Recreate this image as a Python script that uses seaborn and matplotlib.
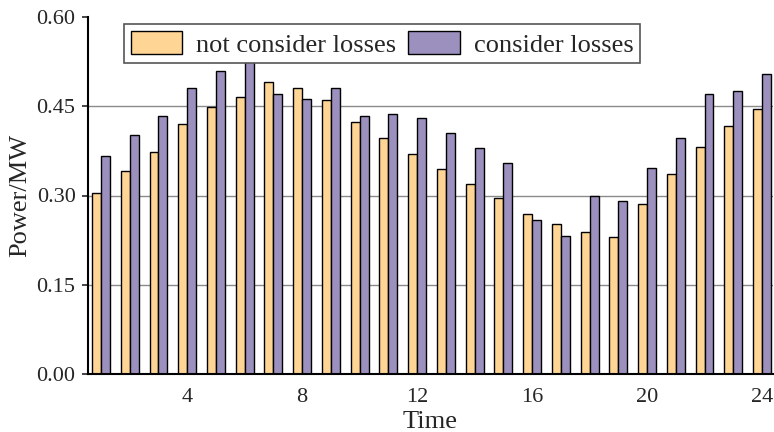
import numpy as np
import pandas as pd
import matplotlib
matplotlib.use("Agg")
import matplotlib.pyplot as plt
import seaborn as sns
from matplotlib.ticker import FixedLocator

# Hourly power (MW) for the two scheduling cases
hours = list(range(1, 25))
not_consider_losses = [0.305, 0.342, 0.373, 0.421, 0.449, 0.466, 0.491, 0.481,
                       0.460, 0.424, 0.397, 0.370, 0.345, 0.319, 0.295, 0.269,
                       0.252, 0.239, 0.231, 0.286, 0.336, 0.381, 0.416, 0.446]
consider_losses = [0.366, 0.402, 0.433, 0.481, 0.509, 0.526, 0.470, 0.462,
                   0.480, 0.433, 0.437, 0.430, 0.405, 0.379, 0.354, 0.259,
                   0.232, 0.299, 0.291, 0.346, 0.396, 0.471, 0.476, 0.505]
series_names = ["not consider losses", "consider losses"]
y_ticks = [0.00, 0.15, 0.30, 0.45, 0.60]
x_tick_labels = [4, 8, 12, 16, 20, 24]

df = pd.DataFrame({
    "Time": hours * 2,
    "Power": not_consider_losses + consider_losses,
    "Case": [series_names[0]] * 24 + [series_names[1]] * 24,
})

sns.set_style("white")
plt.rcParams["font.family"] = ["Liberation Serif", "DejaVu Serif"]

fig = plt.figure(figsize=(7.74, 4.32), dpi=100)
ax = fig.add_axes([88 / 774, 1 - 374 / 432, 685 / 774, 357 / 432])

palette = {series_names[0]: "#FFD596", series_names[1]: "#9C90BF"}
sns.barplot(data=df, x="Time", y="Power", hue="Case", hue_order=series_names,
            palette=palette, width=0.62, edgecolor="black", linewidth=1.0,
            saturation=1, ax=ax, zorder=3)

# horizontal grid
for yv in y_ticks[1:-1]:
    ax.axhline(yv, color="#8a8a8a", lw=1.0, zorder=1)

ax.set_ylim(0, 0.60)
ax.set_xlim(-0.45, 23.38)
ax.set_yticks(y_ticks)
ax.set_yticklabels([f"{v:.2f}" for v in y_ticks])
ax.set_xticks([h - 1 for h in x_tick_labels])
ax.set_xticklabels([str(h) for h in x_tick_labels])
ax.xaxis.set_minor_locator(FixedLocator([h - 1 for h in hours]))

ax.tick_params(axis="y", which="major", direction="out", length=4, width=1.2,
               labelsize=16, left=True, pad=5)
ax.tick_params(axis="x", which="major", direction="in", length=4, width=1.2,
               labelsize=16, bottom=True, pad=10)
ax.tick_params(axis="x", which="minor", direction="in", length=3, width=1.0,
               bottom=True)

for side in ["top", "right"]:
    ax.spines[side].set_visible(False)
for side in ["left", "bottom"]:
    ax.spines[side].set_color("black")
    ax.spines[side].set_linewidth(1.5)
    ax.spines[side].set_zorder(5)

ax.set_xlabel("Time", fontsize=19, labelpad=3)
ax.set_ylabel("Power/MW", fontsize=19, labelpad=4)

leg = ax.legend(loc="upper left", bbox_to_anchor=(0.0526, 0.98), ncol=2,
                fontsize=19, frameon=True, fancybox=False, framealpha=1,
                edgecolor="#555555", handlelength=1.96, handleheight=1.0,
                handletextpad=0.53, columnspacing=0.45, borderpad=0.25,
                borderaxespad=0)
leg.get_frame().set_linewidth(1.2)
leg.set_zorder(10)
for h in leg.legend_handles:
    h.set_edgecolor("black")
    h.set_linewidth(1.0)

fig.savefig("out.png", dpi=100)
